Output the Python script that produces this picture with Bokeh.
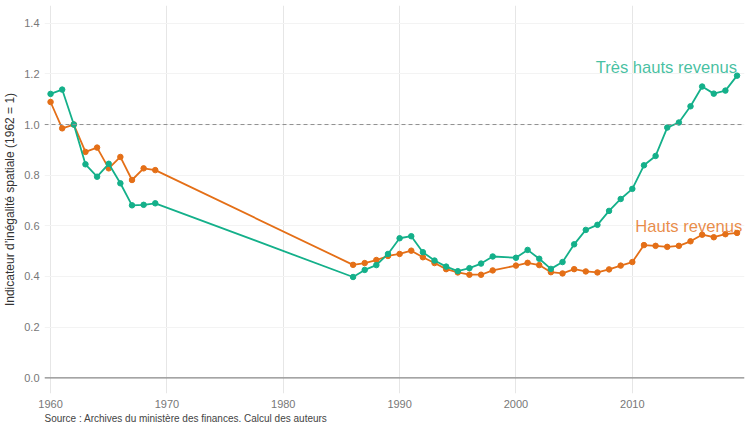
from bokeh.plotting import figure
from bokeh.models import Span, Label, FixedTicker, PrintfTickFormatter, Range1d, Title, ColumnDataSource
from bokeh.embed import file_html
from bokeh.resources import INLINE

years_a = [1960, 1961, 1962, 1963, 1964, 1965, 1966, 1967, 1968, 1969]
years_b = [1986, 1987, 1988, 1989, 1990, 1991, 1992, 1993, 1994, 1995, 1996, 1997, 1998,
           2000, 2001, 2002, 2003, 2004, 2005, 2006, 2007, 2008, 2009, 2010, 2011, 2012,
           2013, 2014, 2015, 2016, 2017, 2018, 2019]
years = years_a + years_b

tres_hauts = [1.121, 1.138, 1.000, 0.843, 0.794, 0.845, 0.768, 0.681, 0.683, 0.689,
              0.398, 0.426, 0.445, 0.489, 0.551, 0.559, 0.496, 0.463, 0.439, 0.421, 0.433,
              0.451, 0.479, 0.474, 0.505, 0.470, 0.430, 0.457, 0.527, 0.584, 0.604, 0.659,
              0.706, 0.746, 0.839, 0.876, 0.988, 1.008, 1.072, 1.150, 1.122, 1.134, 1.193]
hauts = [1.089, 0.985, 1.000, 0.892, 0.909, 0.827, 0.872, 0.781, 0.827, 0.820,
         0.446, 0.453, 0.465, 0.481, 0.489, 0.502, 0.476, 0.453, 0.429, 0.416, 0.407,
         0.407, 0.424, 0.443, 0.454, 0.445, 0.417, 0.412, 0.429, 0.420, 0.416, 0.428,
         0.443, 0.457, 0.524, 0.521, 0.517, 0.521, 0.539, 0.565, 0.555, 0.567, 0.572]

x_ticks = [1960, 1970, 1980, 1990, 2000, 2010]
y_ticks = [0.0, 0.2, 0.4, 0.6, 0.8, 1.0, 1.2, 1.4]

green = "#14B08A"
orange = "#E46F17"
FONT = "Liberation Sans"

p = figure(width=746, height=423, output_backend="svg", toolbar_location=None,
           x_range=Range1d(1959.48, 2019.64), y_range=Range1d(-0.062, 1.470),
           min_border_left=0, min_border_right=2, min_border_top=5, min_border_bottom=0)
p.outline_line_color = None
p.background_fill_color = "white"
p.border_fill_color = "white"

p.xgrid.ticker = FixedTicker(ticks=x_ticks)
p.ygrid.ticker = FixedTicker(ticks=y_ticks)
p.xgrid.grid_line_color = "#e6e6e6"
p.ygrid.grid_line_color = "#f3f3f3"
p.xaxis.ticker = FixedTicker(ticks=x_ticks)
p.yaxis.ticker = FixedTicker(ticks=y_ticks)
p.yaxis.formatter = PrintfTickFormatter(format="%.1f")

for ax in (p.xaxis, p.yaxis):
    ax.axis_line_color = None
    ax.major_tick_line_color = None
    ax.minor_tick_line_color = None
    ax.major_tick_in = 0
    ax.major_tick_out = 0
    ax.minor_tick_in = 0
    ax.minor_tick_out = 0
    ax.major_label_text_font = FONT
    ax.major_label_text_font_size = "11px"
    ax.major_label_text_color = "#777777"
p.xaxis.major_label_standoff = 6
p.yaxis.major_label_standoff = 5
p.yaxis.axis_label = "Indicateur d\u2019in\u00e9galit\u00e9 spatiale (1962 = 1)"
p.yaxis.axis_label_text_font = FONT
p.yaxis.axis_label_text_font_style = "normal"
p.yaxis.axis_label_text_font_size = "12px"
p.yaxis.axis_label_text_color = "#333333"
p.yaxis.axis_label_standoff = 4

p.add_layout(Span(location=0, dimension="width", line_color="#8a8a8a", line_width=1.2))
p.add_layout(Span(location=1, dimension="width", line_color="#8f8f8f", line_width=1,
                  line_dash="4 3"))

def series(vals, color):
    n = len(years_a)
    a = ColumnDataSource(dict(x=years[:n], y=vals[:n]))
    b = ColumnDataSource(dict(x=years[n - 1:], y=vals[n - 1:]))
    p.line("x", "y", source=a, line_color=color, line_width=1.8)
    p.line("x", "y", source=b, line_color=color, line_width=1.8)
    p.scatter(years, vals, size=5.5, fill_color=color, line_color=color)

series(hauts, orange)
series(tres_hauts, green)

p.add_layout(Label(x=2019.0, y=1.226, text="Tr\u00e8s hauts revenus", text_align="right",
                   text_baseline="alphabetic", text_font=FONT, text_font_size="16.6px",
                   text_color=green, text_alpha=0.8))
p.add_layout(Label(x=2019.45, y=0.597, text="Hauts revenus", text_align="right",
                   text_baseline="alphabetic", text_font=FONT, text_font_size="16.6px",
                   text_color=orange, text_alpha=0.8))

cap = Title(text="Source : Archives du minist\u00e8re des finances. Calcul des auteurs",
            align="left", text_font=FONT, text_font_size="10px", text_font_style="normal",
            text_color="#444444", offset=0, standoff=0)
p.add_layout(cap, "below")

open("out.html", "w").write(file_html(p, INLINE))
